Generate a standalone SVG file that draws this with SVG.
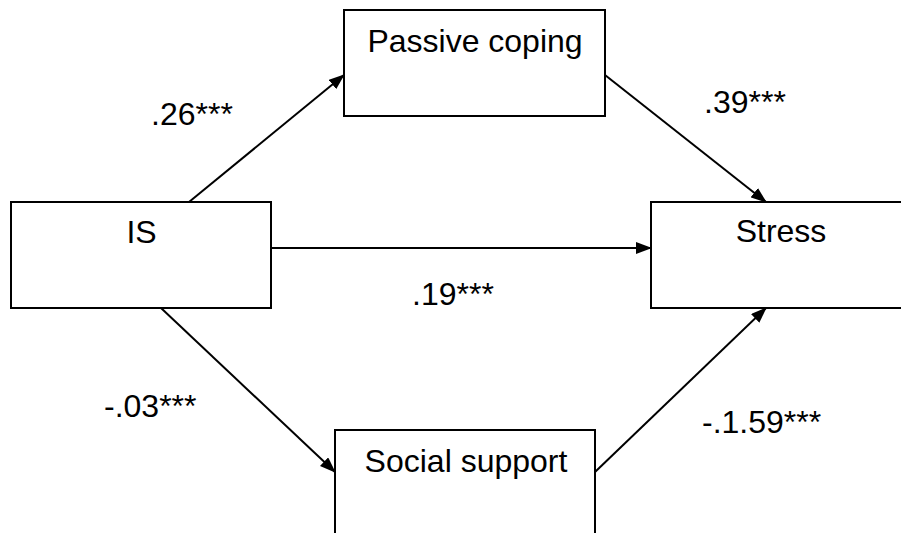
<svg xmlns="http://www.w3.org/2000/svg" width="901" height="533" viewBox="0 0 901 533">
<style>
.box{fill:#fff;stroke:#000;stroke-width:2}
.t{font-family:"Liberation Sans",Arial,sans-serif;font-size:32px;fill:#000}
.c{stroke:#000;stroke-width:2;fill:none}
</style>
<defs>
<marker id="ah" markerUnits="userSpaceOnUse" markerWidth="16" markerHeight="12" refX="15" refY="6" orient="auto">
<path d="M0,0 L16,6 L0,12 Z" fill="#000"/>
</marker>
</defs>
<rect width="901" height="533" fill="#fff"/>
<g id="connectors">
<line class="c" x1="189" y1="202" x2="344" y2="75" marker-end="url(#ah)"/>
<line class="c" x1="605" y1="75" x2="766" y2="202" marker-end="url(#ah)"/>
<line class="c" x1="271" y1="248" x2="651" y2="248" marker-end="url(#ah)"/>
<line class="c" x1="161" y1="308" x2="335" y2="472" marker-end="url(#ah)"/>
<line class="c" x1="595" y1="472" x2="766" y2="308" marker-end="url(#ah)"/>
</g>
<g id="passive">
<rect class="box" x="344" y="10" width="261" height="106"/>
<text class="t" x="475" y="52" text-anchor="middle">Passive coping</text>
</g>
<g id="is">
<rect class="box" x="11" y="202" width="260" height="106"/>
<text class="t" x="141.5" y="243" text-anchor="middle">IS</text>
</g>
<g id="stress">
<rect class="box" x="651" y="202" width="260" height="106"/>
<text class="t" x="781" y="242" text-anchor="middle">Stress</text>
</g>
<g id="social">
<rect class="box" x="335" y="430" width="260" height="106"/>
<text class="t" x="466" y="472" text-anchor="middle">Social support</text>
</g>
<g id="labels">
<text class="t" x="151" y="125">.26***</text>
<text class="t" x="704" y="113">.39***</text>
<text class="t" x="412" y="305">.19***</text>
<text class="t" x="104" y="417">-.03***</text>
<text class="t" x="702" y="433">-.1.59***</text>
</g>
</svg>
